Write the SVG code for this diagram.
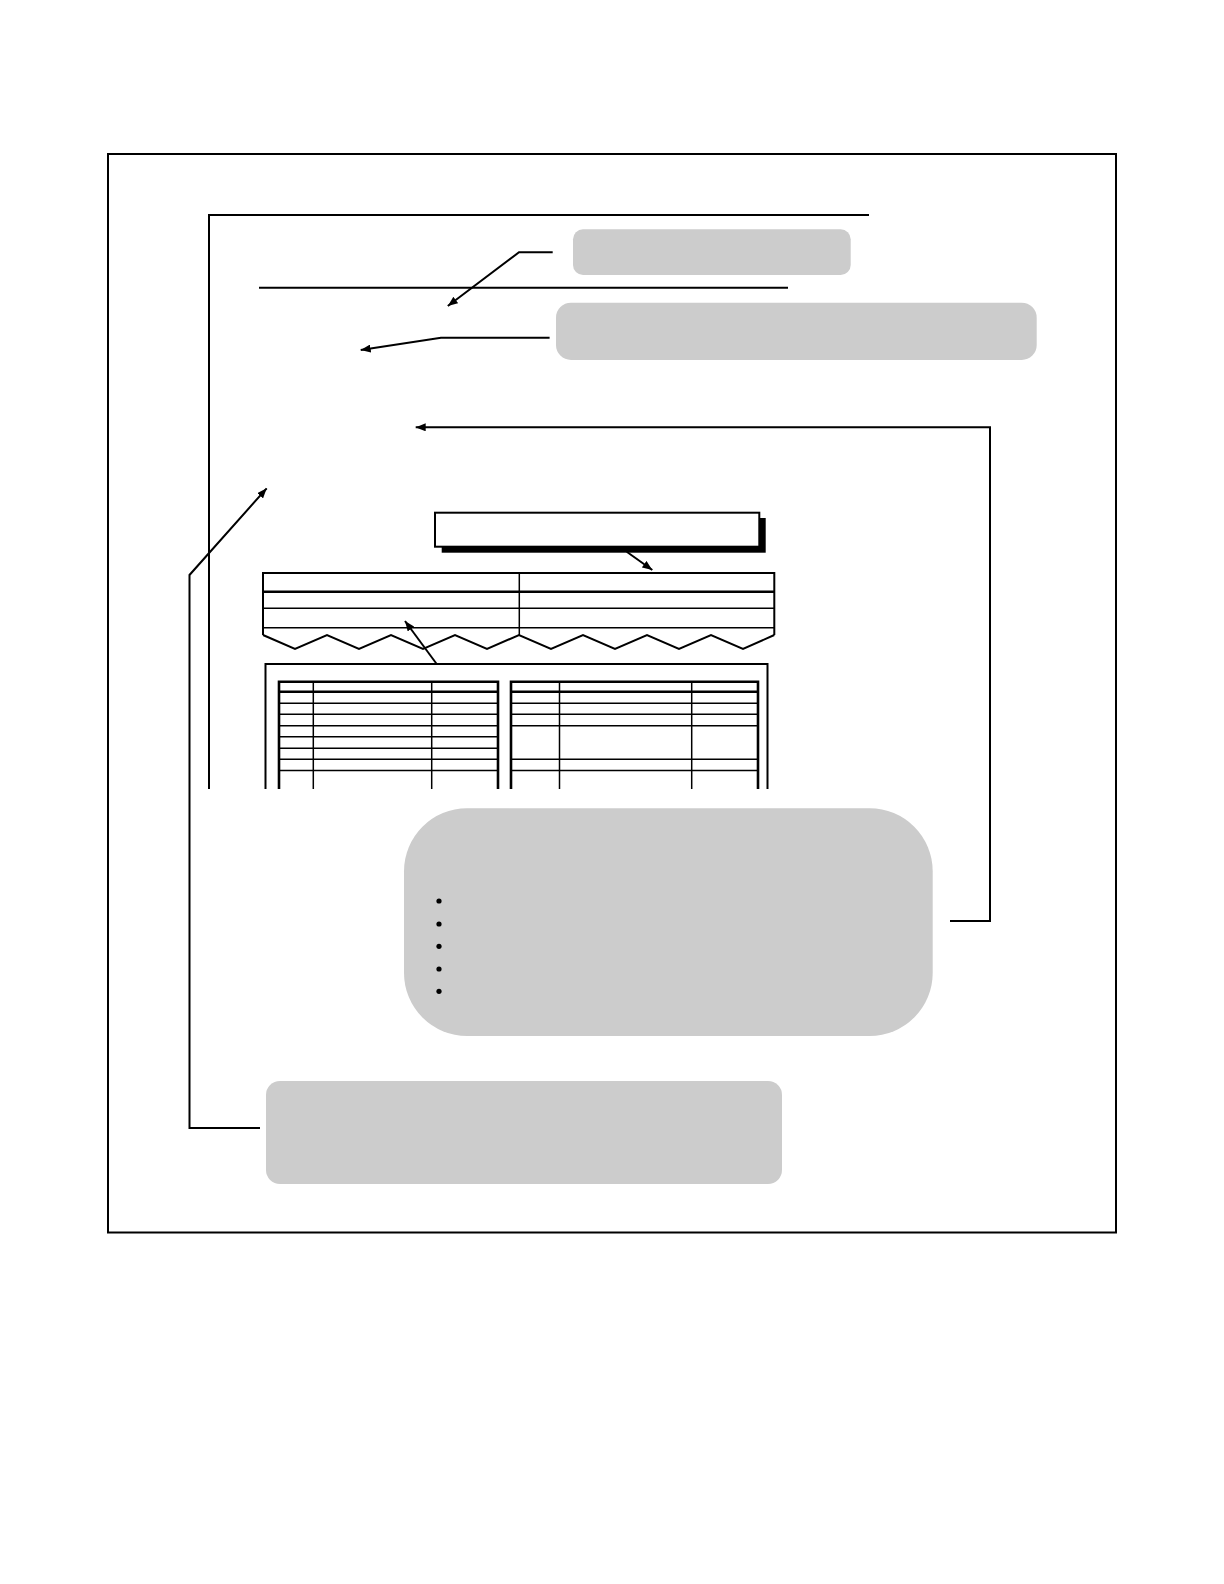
<svg xmlns="http://www.w3.org/2000/svg" width="1224" height="1584" viewBox="0 0 1224 1584">
<style>
.ln{fill:none;stroke:#000;stroke-width:2}
.th{fill:none;stroke:#000;stroke-width:1.5}
.hd{fill:none;stroke:#000;stroke-width:2.6}
.grey{fill:#cccccc;stroke:none}
.con{fill:none;stroke:#000;stroke-width:2}
</style>
<defs>
<marker id="ah" viewBox="0 0 10 8" refX="10" refY="4" markerWidth="10" markerHeight="8" markerUnits="userSpaceOnUse" orient="auto">
<path d="M0,0 L10,4 L0,8 Z" fill="#000"/>
</marker>
</defs>
<rect width="1224" height="1584" fill="#fff"/>
<g id="frame">
<rect x="108" y="154" width="1008" height="1078.5" class="ln"/>
</g>
<g id="page">
<path d="M209,789 V215 H869" class="ln"/>
<line x1="259" y1="287.7" x2="788" y2="287.7" class="ln"/>
</g>
<g id="title-box">
<rect x="441.7" y="518" width="324" height="34.7" fill="#000"/>
<rect x="435" y="512.7" width="324.3" height="34" fill="#fff" stroke="#000" stroke-width="2"/>
</g>
<g id="upper-table">
<path d="M263,635 V573 H774.3 V635" class="ln"/>
<line x1="263" y1="591.7" x2="774.3" y2="591.7" class="hd"/>
<line x1="263" y1="608.3" x2="774.3" y2="608.3" class="th"/>
<line x1="263" y1="627.7" x2="774.3" y2="627.7" class="th"/>
<line x1="519.3" y1="573" x2="519.3" y2="635" class="th"/>
<polyline points="263,635 295,649 327,635 359,649 391,635 423,649 455,635 487,649 519,635 551,649 583,635 615,649 647,635 679,649 711,635 743,649 774.3,635" class="ln"/>
</g>
<g id="lower-frame">
<path d="M265.5,789 V664 H767.5 V789" class="ln"/>
</g>
<g id="table-left">
<path d="M279,789 V681.7 H498 V789" class="hd"/>
<line x1="279" y1="691.7" x2="498" y2="691.7" class="hd"/>
<g class="th">
<line x1="279" y1="703.3" x2="498" y2="703.3"/>
<line x1="279" y1="714.3" x2="498" y2="714.3"/>
<line x1="279" y1="725.7" x2="498" y2="725.7"/>
<line x1="279" y1="736.7" x2="498" y2="736.7"/>
<line x1="279" y1="748.3" x2="498" y2="748.3"/>
<line x1="279" y1="759.3" x2="498" y2="759.3"/>
<line x1="279" y1="770.5" x2="498" y2="770.5"/>
<line x1="313.3" y1="681.7" x2="313.3" y2="789"/>
<line x1="431.7" y1="681.7" x2="431.7" y2="789"/>
</g>
</g>
<g id="table-right">
<path d="M511,789 V681.7 H758 V789" class="hd"/>
<line x1="511" y1="691.7" x2="758" y2="691.7" class="hd"/>
<g class="th">
<line x1="511" y1="703.3" x2="758" y2="703.3"/>
<line x1="511" y1="714.3" x2="758" y2="714.3"/>
<line x1="511" y1="725.7" x2="758" y2="725.7"/>
<line x1="511" y1="759.3" x2="758" y2="759.3"/>
<line x1="511" y1="770.5" x2="758" y2="770.5"/>
<line x1="559.5" y1="681.7" x2="559.5" y2="789"/>
<line x1="691.7" y1="681.7" x2="691.7" y2="789"/>
</g>
</g>
<g id="callout-1">
<rect x="573" y="229.3" width="277.7" height="45.7" rx="10" class="grey"/>
</g>
<g id="callout-2">
<rect x="556" y="302.7" width="480.7" height="57.3" rx="15" class="grey"/>
</g>
<g id="callout-3">
<rect x="404" y="808.3" width="528.7" height="227.7" rx="63" class="grey"/>
<g fill="#000">
<circle cx="439" cy="901" r="2.6"/>
<circle cx="439" cy="924" r="2.6"/>
<circle cx="439" cy="946.3" r="2.6"/>
<circle cx="439" cy="969" r="2.6"/>
<circle cx="439" cy="991.3" r="2.6"/>
</g>
</g>
<g id="callout-4">
<rect x="266" y="1081" width="516" height="103" rx="14" class="grey"/>
</g>
<g id="connectors">
<path d="M552.7,252.3 H519 L447.8,306" class="con" marker-end="url(#ah)"/>
<path d="M549.6,337.7 H441 L360.7,350" class="con" marker-end="url(#ah)"/>
<path d="M950,921 H990 V427.3 H415.7" class="con" marker-end="url(#ah)"/>
<path d="M260,1128 H189.5 V575 L266.7,488.3" class="con" marker-end="url(#ah)"/>
<path d="M626.7,551.7 L652.3,570" class="con" marker-end="url(#ah)"/>
<path d="M436.7,664 L405,621" class="con" marker-end="url(#ah)"/>
</g>
</svg>
